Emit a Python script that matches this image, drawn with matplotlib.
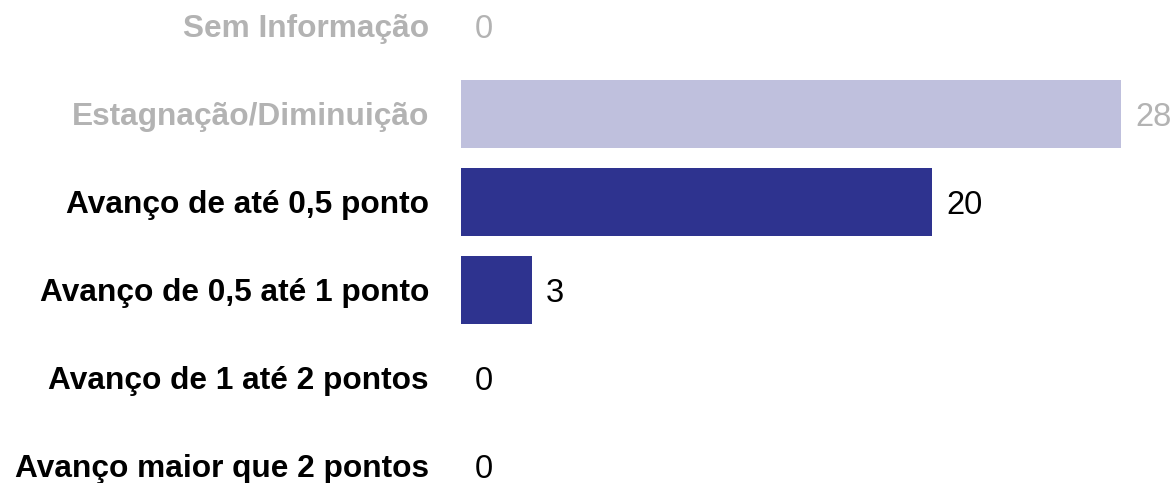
import matplotlib
matplotlib.use("Agg")
import matplotlib.pyplot as plt
from matplotlib.transforms import offset_copy

categories = ["Sem Informação", "Estagnação/Diminuição", "Avanço de até 0,5 ponto",
              "Avanço de 0,5 até 1 ponto", "Avanço de 1 até 2 pontos", "Avanço maior que 2 pontos"]
values = [0, 28, 20, 3, 0, 0]
bar_colors = ["#bfc0dd", "#bfc0dd", "#2e338f", "#2e338f", "#2e338f", "#2e338f"]
text_colors = ["#b3b3b3", "#b3b3b3", "#000000", "#000000", "#000000", "#000000"]

plt.rcParams['font.family'] = ['Liberation Sans', 'DejaVu Sans']
W, H = 1175, 483
fig = plt.figure(figsize=(W / 100, H / 100), dpi=100)
ax = fig.add_axes([461 / W, 0, 1 - 461 / W, 1])
ypos = list(range(len(categories)))
ax.barh(ypos, values, height=0.773, color=bar_colors)
ax.set_xlim(0, 714 / (660 / 28))
ax.set_ylim(5 + (483 - 466) / 88, -26 / 88)
ax.axis("off")

lab_tr = offset_copy(ax.transData, fig=fig, x=-32, y=-3, units="dots")
val_tr = offset_copy(ax.transData, fig=fig, x=14, y=-3, units="dots")
for y, cat, v, tc in zip(ypos, categories, values, text_colors):
    ax.text(0, y, cat, transform=lab_tr, ha="right", va="center",
            fontsize=22.8, fontweight="bold", color=tc)
    ax.text(v, y, str(v), transform=val_tr, ha="left", va="center",
            fontsize=23.5, color=tc)

fig.savefig("out.png", dpi=100)
